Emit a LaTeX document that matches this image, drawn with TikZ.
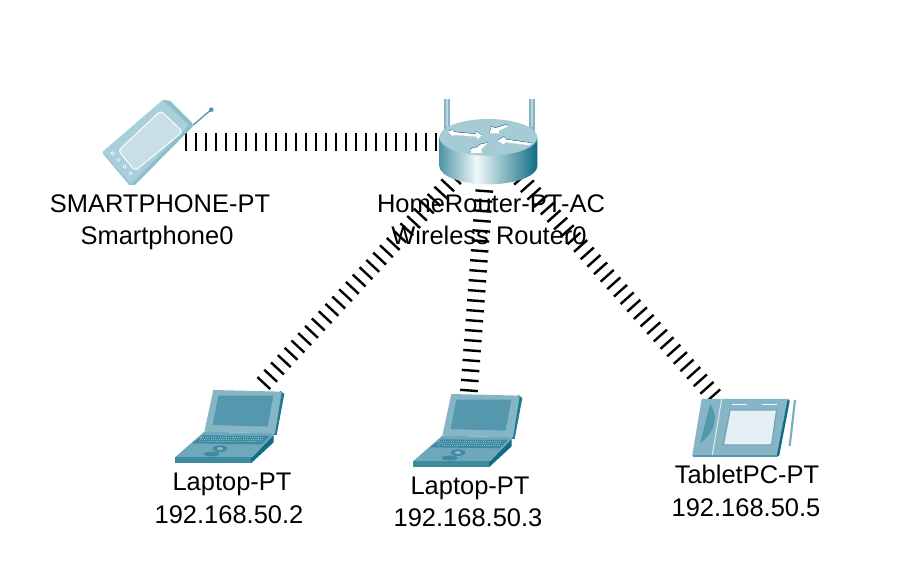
\documentclass[tikz,border=0pt]{standalone}
\usepackage{fontspec}
\setmainfont{Liberation Sans}
\usetikzlibrary{shapes.geometric}
\definecolor{pale}{HTML}{A9CFDB}
\definecolor{paleside}{HTML}{8FBECD}
\definecolor{palescreen}{HTML}{C8DFE7}
\definecolor{teal1}{HTML}{86B5C6}
\definecolor{teal2}{HTML}{5598AE}
\definecolor{teal3}{HTML}{3D8BA0}
\definecolor{teal4}{HTML}{1F7A92}
\definecolor{deepteal}{HTML}{0E6C84}
\definecolor{rtop}{HTML}{A5CBD5}
\definecolor{rleft}{HTML}{4F93A6}
\definecolor{rmid}{HTML}{F0F8FA}
\definecolor{navy}{HTML}{0F4A63}
\definecolor{lapbase}{HTML}{6EA8BC}
\pgfdeclarehorizontalshading{routerside}{100bp}{color(0bp)=(rleft);color(25bp)=(rleft);color(44bp)=(rmid);color(75bp)=(deepteal);color(100bp)=(deepteal)}
\tikzset{
  devicebox/.style={inner sep=0pt,outer sep=0pt},
  wireless/.style={draw=black,line width=13.2pt,dash pattern=on 1.8pt off 5.7pt},
  lbl/.style={font=\fontsize{19.1pt}{24pt}\selectfont,text=black,inner sep=0pt,anchor=base},
  laptopicon/.pic={
    \begin{scope}[scale=1/3]
      \fill[teal4] (345,32)--(358,42)--(335,165)--(325,165)--cycle;
      \fill[teal1] (145,30)--(350,35)--(330,160)--(118,155)--cycle;
      \fill[teal2] (160,47)--(325,47)--(308,140)--(143,135)--cycle;
      \fill[deepteal] (258,232)--(326,165)--(326,187)--(258,250)--cycle;
      \fill[lapbase] (118,155)--(330,160)--(262,232)--(30,232)--cycle;
      \fill[teal3] (115,166)--(314,168)--(290,193)--(80,190)--cycle;
      \foreach \k in {172,178,184}
        \draw[teal1,line width=.4pt,dash pattern=on .8pt off .8pt] (108-\k*.3+50,\k)--(300-\k*.3+50,\k);
      \fill[teal3] (30,232)--(258,232)--(258,250)--(30,250)--cycle;
      \fill[teal3] (140,222) ellipse (24 and 7);
      \fill[teal3] (165,206) ellipse (22 and 10);
      \fill[teal1] (165,206) ellipse (9 and 5);
    \end{scope}
  },
}
\begin{document}
\begin{tikzpicture}[x=.75pt,y=-.75pt]
\useasboundingbox (0,0) rectangle (908,577);
\fill[white] (0,0) rectangle (908,577);

\node[devicebox,minimum width=60*.75pt,minimum height=90*.75pt] (phone) at (155,142) {};
\node[devicebox,circle,minimum size=96*.75pt] (router) at (488,142) {};
\node[devicebox,minimum width=110*.75pt,minimum height=74*.75pt] (laptopA) at (225,425) {};
\node[devicebox,minimum width=110*.75pt,minimum height=76*.75pt] (laptopB) at (466,430) {};
\node[devicebox,minimum width=100*.75pt,minimum height=54*.75pt] (tablet) at (740,425) {};

\draw[wireless] (phone) -- (router);
\draw[wireless] (router) -- (laptopA);
\draw[wireless] (router) -- (laptopB);
\draw[wireless] (router) -- (tablet);

% smartphone
\begin{scope}[shift={(90,90)},scale=1/3]
  \draw[teal2,line width=1pt] (310,105)--(362,60);
  \fill[teal2] (364,59) circle (7);
  \fill[paleside] (220,30)--(240,32)--(306,98)--(310,108)--(135,285)--(118,285)--(38,190)--cycle;
  \fill[pale] (218,30)--(296,106)--(122,283)--(38,185)--cycle;
  \filldraw[fill=palescreen,draw=white,line width=.7pt,rounded corners=2.5pt] (212,62)--(278,125)--(135,243)--(85,182)--cycle;
  \foreach \p in {(68,190),(86,210),(104,230),(122,250)}
    \filldraw[fill=teal2,draw=white,line width=.6pt] \p circle (4.5);
\end{scope}

% router
\begin{scope}[shift={(420,90)},scale=1/3]
  \fill[teal1] (72,28) rectangle (90,125);
  \fill[teal1] (328,28) rectangle (345,125);
  \fill[white,opacity=.45] (78,28) rectangle (83,110);
  \fill[white,opacity=.45] (334,28) rectangle (339,110);
  \path[shading=routerside]
    (58,142) -- (58,228) arc[start angle=180,end angle=0,x radius=147,y radius=55] -- (352,142) -- cycle;
  \fill[rtop] (205,142) ellipse (147 and 55);
\end{scope}
\begin{scope}[shift={(438,110)},scale=1/3]
  \foreach \col/\dx/\dy in {navy/-1/-4,white/0/0}{
    \begin{scope}[shift={(\dx/3,\dy/3)}]
    \fill[\col] (30,64)--(42,60)--(48,66)--(115,72)--(113,64)--(132,76)--(118,88)--(114,80)--(50,75)--(42,78)--cycle;
    \fill[\col] (155,70)--(160,50)--(172,54)--(205,44)--(210,50)--(182,62)--(186,70)--cycle;
    \fill[\col] (178,92)--(198,80)--(202,88)--(280,99)--(276,106)--(202,97)--(198,104)--cycle;
    \fill[\col] (150,98)--(124,104)--(118,112)--(110,112)--(97,118)--(100,130)--(135,128)--(130,118)--cycle;
    \end{scope}
  }
\end{scope}

\pic at (165,380) {laptopicon};
\pic at (403,384) {laptopicon};

% tablet
\begin{scope}[shift={(685,385)},scale=1/3]
  \draw[teal2!80,line width=1.6pt] (330,45)--(314,183);
  \fill[teal2] (22,210)--(280,210)--(278,216)--(25,216)--cycle;
  \fill[teal1] (50,42)--(312,42)--(280,210)--(22,210)--cycle;
  \draw[deepteal,line width=1.8pt] (311,46)--(279,212);
  \draw[white!70!teal1,line width=.8pt] (110,42)--(82,210);
  \fill[teal2] (75,58) .. controls (100,85) and (95,140) .. (45,175) -- cycle;
  \filldraw[fill=rmid!70!palescreen,draw=teal2!85,line width=1pt] (135,75)--(275,75)--(260,180)--(115,180)--cycle;
  \draw[rmid,line width=1pt] (140,58)--(185,58);
  \draw[rmid,line width=1pt] (230,58)--(275,58);
\end{scope}

\node[lbl] (phoneT) at (160,213) {SMARTPHONE-PT};
\node[lbl] (phoneN) at (157,245) {Smartphone0};
\node[lbl] (routerT) at (491,213) {HomeRouter-PT-AC};
\node[lbl] (routerN) at (489,245) {Wireless Router0};
\node[lbl] (laptopAT) at (232,491) {Laptop-PT};
\node[lbl] (laptopAN) at (229,523) {192.168.50.2};
\node[lbl] (laptopBT) at (470,495) {Laptop-PT};
\node[lbl] (laptopBN) at (468,527) {192.168.50.3};
\node[lbl] (tabletT) at (747,484) {TabletPC-PT};
\node[lbl] (tabletN) at (746,517) {192.168.50.5};
\end{tikzpicture}
\end{document}
